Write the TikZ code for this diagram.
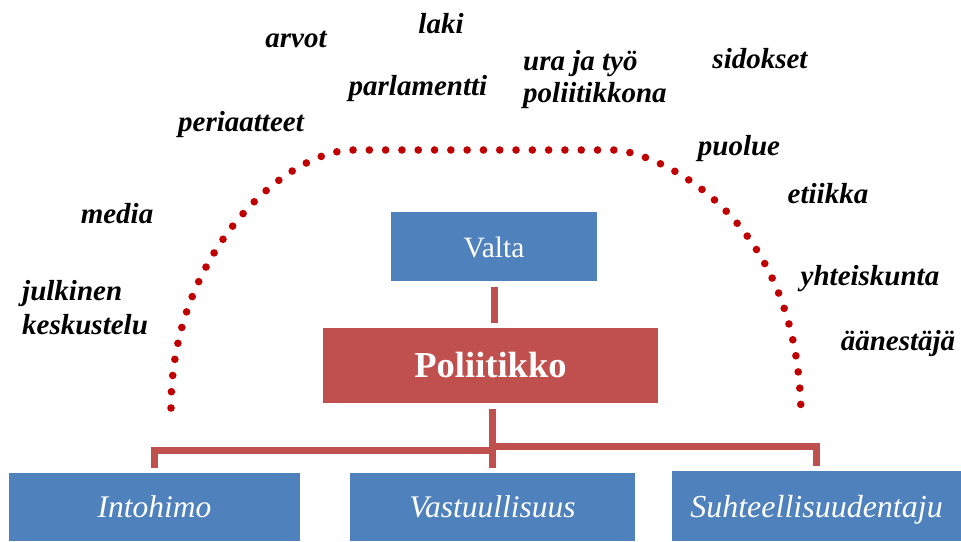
\documentclass[tikz,border=0pt]{standalone}
\usepackage{fontspec}
\setmainfont{Liberation Serif}
\definecolor{boxblue}{HTML}{4F81BD}
\definecolor{boxred}{HTML}{C0504D}
\definecolor{dotred}{HTML}{C00000}
\begin{document}
\begin{tikzpicture}[x=1pt,y=-1pt,
  lbl/.style={font=\fontsize{29}{32}\selectfont\bfseries\itshape, anchor=base, inner sep=0pt},
  mlbl/.style={font=\fontsize{29}{#1}\selectfont\bfseries\itshape, anchor=north west, inner sep=0pt, align=left},
  box/.style={inner sep=0pt, text=white, text depth=0pt},
  bluebox/.style={box, fill=boxblue},
  redbox/.style={box, fill=boxred},
  btm/.style={bluebox, font=\fontsize{31.5}{34}\selectfont\itshape, text height=20pt},
  conn/.style={draw=boxred, line width=7pt, line join=miter},
  dotline/.style={draw=dotred, line width=7.6pt, line cap=round, dash pattern=on 0pt off 16.3pt}
]
\useasboundingbox (0,0) rectangle (961,541);
\fill[white] (0,0) rectangle (961,541);

% boxes
\node[bluebox, minimum width=206pt, minimum height=69pt, text height=21pt, font=\fontsize{29.5}{33}\selectfont] (valta) at (494,246.5) {Valta};
\node[redbox, minimum width=335pt, minimum height=75pt, text height=23pt, font=\fontsize{36.5}{40}\selectfont\bfseries] (poli) at (490.5,365.5) {Poliitikko};
\node[btm, minimum width=291pt, minimum height=68pt] (into) at (154.5,507) {Intohimo};
\node[btm, minimum width=285pt, minimum height=68pt] (vast) at (492.5,507) {Vastuullisuus};
\node[btm, minimum width=289pt, minimum height=70pt, text height=22pt, font=\fontsize{32}{35}\selectfont\itshape] (suht) at (816.5,506) {Suhteellisuudentaju};

% connectors
\coordinate (c0) at (valta.south |- poli.north);
\draw[conn] ([yshift=-6pt]valta.south) -- ([yshift=5pt]c0);
\coordinate (c1) at (vast.north |- poli.south);
\draw[conn] ([yshift=-6pt]c1) -- ([yshift=5pt]vast.north);
\coordinate (lj) at (vast.north |- 0,450);
\coordinate (rj) at (vast.north |- 0,446);
\draw[conn] ([yshift=5pt]into.north) -- (into.north |- lj) -- (lj);
\draw[conn] (rj) -- (suht.north |- rj) -- ([yshift=5pt]suht.north);

% dotted arch
\draw[dotline] (171,408) .. controls (171,253) and (286,150) .. (353,150) -- (613,150) .. controls (648,150) and (801,207) .. (801,420);

% labels
\node[lbl] (arvot) at (296,47) {arvot};
\node[lbl] (laki) at (441,33) {laki};
\node[lbl] (parl) at (418,95) {parlamentti};
\node[lbl] (peri) at (241,131) {periaatteet};
\node[lbl] (sido) at (760,68) {sidokset};
\node[lbl] (puol) at (739,155) {puolue};
\node[lbl] (etii) at (828,203) {etiikka};
\node[lbl] (yhte) at (870,285) {yhteiskunta};
\node[lbl] (aane) at (898,350) {äänestäjä};
\node[lbl] (medi) at (117,223) {media};
\node[mlbl=32] (ura) at (523,50) {ura ja työ\\poliitikkona};
\node[mlbl=34] (julk) at (22,280) {julkinen\\keskustelu};
\end{tikzpicture}
\end{document}
